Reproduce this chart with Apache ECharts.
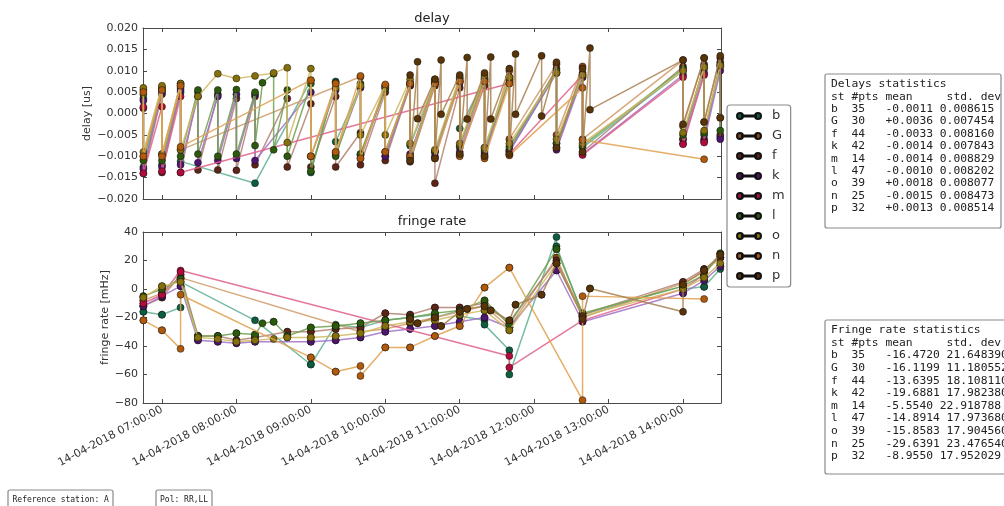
<!DOCTYPE html>
<html>
<head>
<meta charset="utf-8">
<script src="https://cdn.jsdelivr.net/npm/echarts@6/dist/echarts.min.js"></script>
<style>
html,body{margin:0;padding:0;background:#fff;}
#chart{width:1004px;height:506px;}
</style>
</head>
<body>
<div id="chart"></div>
<script>
// ---------------- data ----------------
const DAY = '14-04-2018';
const stations = ['b', 'G', 'f', 'k', 'm', 'l', 'o', 'n', 'p'];
const hourTicks = [7, 8, 9, 10, 11, 12, 13, 14];

// each row: [time, delay (us), fringe rate (mHz)]
const b = [
  ['06:45', 0.0035, -16], ['06:45', -0.0125, -16],
  ['07:00', 0.0055, -18], ['07:00', -0.0120, -18],
  ['07:15', 0.0050, -13], ['07:15', -0.0112, 5],
  ['08:15', -0.0163, -22],
  ['09:00', 0.0078, -53], ['09:00', -0.0138, -53],
  ['09:20', 0.0075, -25], ['09:20', -0.0066, -26],
  ['09:40', 0.0062, -27], ['09:40', -0.0098, -28],
  ['10:00', 0.0060, -22], ['10:00', -0.0100, -22],
  ['10:20', 0.0070, -20], ['10:20', -0.0075, -20],
  ['10:40', 0.0072, -18], ['10:40', -0.0090, -20],
  ['11:00', 0.0078, -15], ['11:00', -0.0035, -19],
  ['11:20', 0.0080, -22], ['11:20', -0.0080, -25],
  ['11:40', 0.0085, -43], ['11:40', -0.0088, -60],
  ['12:18', 0.0095, 36.5], ['12:18', -0.0070, 30],
  ['12:39', 0.0085, -18], ['12:39', -0.0080, -19],
  ['14:00', 0.0100, 2], ['14:00', -0.0060, 0],
  ['14:17', 0.0105, 1.5], ['14:17', -0.0050, 1.5],
  ['14:30', 0.0110, 14], ['14:30', -0.0055, 16]
];
const G = [
  ['06:45', 0.0055, -8], ['06:45', -0.0100, -8],
  ['07:00', 0.0062, -3], ['07:00', -0.0095, -3],
  ['07:15', 0.0070, 8], ['07:15', -0.0085, 8],
  ['09:40', 0.0086, -30], ['09:40', -0.0095, -30],
  ['10:00', 0.0065, -28], ['10:00', -0.0090, -28],
  ['10:20', 0.0065, -24], ['10:20', -0.0100, -24],
  ['10:40', 0.0070, -20], ['10:40', -0.0090, -20],
  ['11:00', 0.0075, -16], ['11:00', -0.0080, -16],
  ['11:20', 0.0080, -12], ['11:20', -0.0090, -12],
  ['11:40', 0.0100, -27], ['11:40', -0.0060, -27],
  ['12:18', 0.0115, 22], ['12:18', -0.0050, 22],
  ['12:39', 0.0110, -20], ['12:39', -0.0060, -20],
  ['14:00', 0.0125, 4], ['14:00', -0.0030, 4],
  ['14:17', 0.0130, 12], ['14:17', -0.0020, 12],
  ['14:30', 0.0130, 22], ['14:30', -0.0010, 22]
];
const f = [
  ['06:45', 0.0012, -12], ['06:45', -0.0140, -12],
  ['07:00', 0.0045, -6], ['07:00', -0.0138, -6],
  ['07:15', 0.0060, 10], ['07:15', -0.0138, 10],
  ['07:29', 0.0050, -33], ['07:29', -0.0132, -33],
  ['07:45', 0.0045, -33], ['07:45', -0.0132, -33],
  ['08:00', 0.0035, -36], ['08:00', -0.0133, -36],
  ['08:15', 0.0040, -34], ['08:15', -0.0120, -34],
  ['08:41', 0.0035, -30], ['08:41', -0.0125, -30],
  ['09:00', 0.0023, -30], ['09:00', -0.0125, -30],
  ['09:20', 0.0040, -28], ['09:20', -0.0125, -28],
  ['09:40', -0.0045, -27], ['09:40', -0.0120, -27],
  ['10:00', 0.0050, -17], ['10:00', -0.0110, -17],
  ['10:20', 0.0065, -18], ['10:20', -0.0113, -18],
  ['10:40', 0.0065, -13], ['10:40', -0.0163, -13],
  ['11:00', 0.0060, -13], ['11:00', -0.0097, -13],
  ['11:20', 0.0065, -10], ['11:20', -0.0100, -10],
  ['11:40', 0.0080, -23], ['11:40', -0.0085, -23],
  ['12:18', 0.0105, 20], ['12:18', -0.0080, 20],
  ['12:39', 0.0095, -18], ['12:39', -0.0090, -18],
  ['14:00', 0.0110, 5], ['14:00', -0.0060, 5],
  ['14:17', 0.0115, 14], ['14:17', -0.0060, 14],
  ['14:30', 0.0120, 22], ['14:30', -0.0050, 22]
];
const k = [
  ['06:45', 0.0030, -12], ['06:45', -0.0130, -12],
  ['07:00', 0.0050, -5], ['07:00', -0.0125, -5],
  ['07:15', 0.0055, 2], ['07:15', -0.0120, 2],
  ['07:29', 0.0040, -36], ['07:29', -0.0115, -36],
  ['07:45', 0.0040, -37], ['07:45', -0.0110, -37],
  ['08:00', 0.0045, -38], ['08:00', -0.0105, -38],
  ['08:15', 0.0045, -37], ['08:15', -0.0110, -37],
  ['09:00', 0.0050, -37], ['09:00', -0.0100, -37],
  ['09:20', 0.0055, -36], ['09:20', -0.0095, -36],
  ['09:40', 0.0060, -34], ['09:40', -0.0105, -34],
  ['10:00', 0.0062, -30], ['10:00', -0.0100, -30],
  ['10:20', 0.0068, -28], ['10:20', -0.0095, -28],
  ['10:40', 0.0070, -26], ['10:40', -0.0100, -26],
  ['11:00', 0.0072, -23], ['11:00', -0.0090, -23],
  ['11:20', 0.0075, -20], ['11:20', -0.0095, -20],
  ['11:40', 0.0085, -27], ['11:40', -0.0090, -27],
  ['12:18', 0.0095, 13], ['12:18', -0.0085, 13],
  ['12:39', 0.0085, -23], ['12:39', -0.0095, -23],
  ['14:00', 0.0090, -3], ['14:00', -0.0070, -3],
  ['14:17', 0.0095, 6], ['14:17', -0.0065, 6],
  ['14:30', 0.0100, 16], ['14:30', -0.0060, 16]
];
const m = [
  ['06:45', 0.0015, -10], ['06:45', -0.0140, -10],
  ['07:00', 0.0016, -4], ['07:00', -0.0135, -4],
  ['07:15', 0.0040, 13], ['07:15', -0.0138, 12],
  ['11:40', 0.0070, -47], ['11:40', -0.0095, -55],
  ['12:39', 0.0090, -22], ['12:39', -0.0097, -22],
  ['14:00', 0.0085, 0], ['14:00', -0.0072, 0],
  ['14:17', 0.0090, 10], ['14:17', -0.0068, 10]
];
const l = [
  ['06:45', 0.0045, -5], ['06:45', -0.0110, -5],
  ['07:00', 0.0058, 0], ['07:00', -0.0110, 0],
  ['07:15', 0.0065, 7], ['07:15', -0.0100, 7],
  ['07:29', 0.0055, -33], ['07:29', -0.0095, -33],
  ['07:45', 0.0055, -33], ['07:45', -0.0100, -33],
  ['08:00', 0.0056, -31], ['08:00', -0.0095, -31],
  ['08:15', 0.0050, -32], ['08:15', -0.0075, -32],
  ['08:21', 0.0072, -24],
  ['08:30', 0.0093, -23], ['08:30', -0.0085, -23],
  ['08:41', 0.0055, -33], ['08:41', -0.0100, -33],
  ['09:00', 0.0070, -27], ['09:00', -0.0135, -27],
  ['09:20', 0.0072, -26], ['09:20', -0.0100, -26],
  ['09:40', 0.0070, -24], ['09:40', -0.0095, -24],
  ['10:00', 0.0058, -22], ['10:00', -0.0090, -22],
  ['10:20', 0.0072, -20], ['10:20', -0.0105, -20],
  ['10:40', 0.0075, -17], ['10:40', -0.0088, -17],
  ['11:00', 0.0082, -15], ['11:00', -0.0075, -15],
  ['11:20', 0.0085, -8], ['11:20', -0.0085, -8],
  ['11:40', 0.0080, -25], ['11:40', -0.0078, -25],
  ['12:18', 0.0100, 28], ['12:18', -0.0070, 28],
  ['12:39', 0.0090, -17], ['12:39', -0.0075, -17],
  ['14:00', 0.0105, 2], ['14:00', -0.0050, 2],
  ['14:17', 0.0110, 10], ['14:17', -0.0045, 10],
  ['14:30', 0.0115, 25], ['14:30', -0.0040, 25]
];
const o = [
  ['06:45', 0.0060, -6], ['06:45', -0.0090, -6],
  ['07:00', 0.0065, 2], ['07:00', -0.0095, 2],
  ['07:15', 0.0070, 5], ['07:15', -0.0085, 5],
  ['07:29', 0.0040, -34],
  ['07:45', 0.0093, -35],
  ['08:00', 0.0082, -37],
  ['08:15', 0.0088, -36],
  ['08:30', 0.0095, -35],
  ['08:41', 0.0107, -34], ['08:41', -0.0068, -34],
  ['09:00', 0.0105, -34], ['09:00', -0.0100, -34],
  ['09:20', 0.0060, -33], ['09:20', -0.0090, -33],
  ['09:40', 0.0065, -31], ['09:40', -0.0050, -31],
  ['10:00', 0.0065, -26], ['10:00', -0.0050, -26],
  ['10:20', 0.0080, -23], ['10:20', -0.0070, -23],
  ['10:40', 0.0080, -22], ['10:40', -0.0085, -22],
  ['11:00', 0.0085, -18], ['11:00', -0.0070, -18],
  ['11:20', 0.0090, -15], ['11:20', -0.0080, -15],
  ['11:40', 0.0085, -29], ['11:40', -0.0070, -29],
  ['12:18', 0.0095, 18], ['12:18', -0.0060, 18],
  ['12:39', 0.0090, -19], ['12:39', -0.0070, -19],
  ['14:00', 0.0100, 0], ['14:00', -0.0045, 0],
  ['14:17', 0.0108, 8], ['14:17', -0.0040, 8],
  ['14:30', 0.0112, 18]
];
const n = [
  ['06:45', 0.0050, -22], ['06:45', -0.0100, -22],
  ['07:00', 0.0055, -29], ['07:00', -0.0100, -29],
  ['07:15', 0.0065, -42], ['07:15', -0.0078, -4],
  ['09:00', 0.0078, -48], ['09:00', -0.0100, -48],
  ['09:20', 0.0070, -58], ['09:20', -0.0090, -58],
  ['09:40', 0.0088, -54], ['09:40', -0.0105, -61],
  ['10:00', 0.0068, -41], ['10:00', -0.0090, -41],
  ['10:20', 0.0070, -41], ['10:20', -0.0100, -41],
  ['10:40', 0.0070, -33], ['10:40', -0.0105, -33],
  ['11:00', 0.0075, -26], ['11:00', -0.0100, -26],
  ['11:20', 0.0075, 1], ['11:20', -0.0105, 1],
  ['11:40', 0.0070, 15], ['11:40', -0.0098, 15],
  ['12:39', 0.0060, -78], ['12:39', -0.0062, -5],
  ['14:17', -0.0107, -7]
];
const p = [
  ['10:20', 0.0090, -21], ['10:20', -0.0110, -21],
  ['10:26', 0.0121, -24], ['10:26', -0.0012, -24],
  ['10:40', 0.0080, -20], ['10:40', -0.0105, -20],
  ['10:45', 0.0125, -26], ['10:45', -0.0002, -26],
  ['11:00', 0.0090, -16], ['11:00', -0.0095, -16],
  ['11:06', 0.0131, -14], ['11:06', -0.0013, -14],
  ['11:20', 0.0095, -12], ['11:20', -0.0100, -12],
  ['11:25', 0.0132, -15], ['11:25', -0.0013, -15],
  ['11:40', 0.0105, -22], ['11:40', -0.0095, -22],
  ['11:45', 0.0139, -11], ['11:45', -0.0002, -11],
  ['12:06', 0.0135, -4], ['12:06', -0.0006, -4],
  ['12:18', 0.0120, 18], ['12:18', -0.0080, 18],
  ['12:39', 0.0105, -19], ['12:39', -0.0090, -21],
  ['12:45', 0.0153, 0.4], ['12:45', 0.0009, 0.4],
  ['14:00', 0.0125, -16], ['14:00', -0.0025, 3],
  ['14:17', 0.0130, 13], ['14:17', -0.0020, 13],
  ['14:30', 0.0135, 24], ['14:30', -0.0010, 24]
];
const stationData = [b, G, f, k, m, l, o, n, p];

const delayStats = [
  ['b', 35, '-0.0011', '0.008615'],
  ['G', 30, '+0.0036', '0.007454'],
  ['f', 44, '-0.0033', '0.008160'],
  ['k', 42, '-0.0014', '0.007843'],
  ['m', 14, '-0.0014', '0.008829'],
  ['l', 47, '-0.0010', '0.008202'],
  ['o', 39, '+0.0018', '0.008077'],
  ['n', 25, '-0.0015', '0.008473'],
  ['p', 32, '+0.0013', '0.008514']
];
const rateStats = [
  ['b', 35, '-16.4720', '21.648390'],
  ['G', 30, '-16.1199', '11.180552'],
  ['f', 44, '-13.6395', '18.108110'],
  ['k', 42, '-19.6881', '17.982380'],
  ['m', 14, '-5.5540', '22.918788'],
  ['l', 47, '-14.8914', '17.973680'],
  ['o', 39, '-15.8583', '17.904560'],
  ['n', 25, '-29.6391', '23.476540'],
  ['p', 32, '-8.9550', '17.952029']
];

// ---------------- styles ----------------
const markerColors = ['#0d5e40', '#8a4410', '#5e2418', '#4e1570', '#b00c3c', '#2c5a0c', '#86700c', '#b05a0c', '#583408'];
const lineColors = ['#5fb090', '#cf9a68', '#b08070', '#a070c8', '#e06088', '#70a050', '#cfb860', '#e0a050', '#a88050'];

// ---------------- build ----------------
const toH = s => Number(s.slice(0, 2)) + Number(s.slice(3, 5)) / 60;
const pad2 = x => String(x).padStart(2, '0');
const timeLabel = h => {
  const tot = Math.round(h * 3600);
  const hh = Math.floor(tot / 3600), mm = Math.floor((tot % 3600) / 60), ss = tot % 60;
  return DAY + ' ' + pad2(hh) + ':' + pad2(mm) + ':' + pad2(ss);
};
const minus = s => s.replace('-', '\u2212');

const AXIS_COLOR = '#4a4a4a';
const LABEL_COLOR = '#333';
const FONT = 'DejaVu Sans';
const X_MIN = 6.745, X_MAX = 14.51;

function xAxisCfg(gridIndex, position, showLabel) {
  return {
    type: 'value', gridIndex, position, min: X_MIN, max: X_MAX,
    axisLine: { show: true, onZero: false, lineStyle: { color: AXIS_COLOR, width: 1 } },
    axisTick: { show: true, inside: true, length: 4, customValues: hourTicks, lineStyle: { color: AXIS_COLOR } },
    axisLabel: showLabel ? {
      show: true, customValues: hourTicks, rotate: 28, margin: 6,
      fontSize: 11, fontFamily: FONT, color: LABEL_COLOR,
      formatter: v => timeLabel(v)
    } : { show: false },
    splitLine: { show: false }
  };
}
function yAxisCfg(gridIndex, position, min, max, interval, fmt, name, nameGap) {
  return {
    type: 'value', gridIndex, position, min, max, interval,
    name: name || '', nameLocation: 'middle', nameGap: nameGap || 0, nameRotate: 90,
    nameMoveOverlap: false,
    nameTextStyle: { fontSize: 11, fontFamily: FONT, color: LABEL_COLOR },
    axisLine: { show: true, onZero: false, lineStyle: { color: AXIS_COLOR, width: 1 } },
    axisTick: { show: true, inside: true, length: 4, lineStyle: { color: AXIS_COLOR } },
    axisLabel: fmt ? { show: true, fontSize: 11, fontFamily: FONT, color: LABEL_COLOR, margin: 5, formatter: fmt } : { show: false },
    splitLine: { show: false }
  };
}

const series = [];
stations.forEach((st, i) => {
  const rows = stationData[i];
  const common = {
    name: st, type: 'line', symbol: 'circle', symbolSize: 7, showSymbol: true,
    lineStyle: { color: lineColors[i], width: 1.5, opacity: 0.85 },
    itemStyle: { color: markerColors[i], borderColor: '#111', borderWidth: 0.5 },
    emphasis: { disabled: true }, animation: false, z: 2 + i
  };
  series.push(Object.assign({}, common, {
    xAxisIndex: 0, yAxisIndex: 0,
    data: rows.map(r => [toH(r[0]), r[1]])
  }));
  series.push(Object.assign({}, common, {
    xAxisIndex: 2, yAxisIndex: 2,
    data: rows.map(r => [toH(r[0]), r[2]])
  }));
});

const delayLines = ['Delays statistics', 'st #pts mean     std. dev']
  .concat(delayStats.map(r => r[0] + '  ' + r[1] + '   ' + r[2] + ' ' + r[3]));
const rateLines = ['Fringe rate statistics', 'st #pts mean     std. dev']
  .concat(rateStats.map(r => r[0] + '  ' + r[1] + '   ' + r[2] + ' ' + r[3]));

const MONO = '"DejaVu Sans Mono", "Liberation Mono", monospace';
function box(x, y, w, h, text, fontSize, lh, tx, ty) {
  return {
    type: 'group', children: [
      { type: 'rect', shape: { x, y, width: w, height: h, r: 2 },
        style: { fill: '#fff', stroke: '#8a8a8a', lineWidth: 1.2 }, z: 10 },
      { type: 'text', x: tx, y: ty, z: 11,
        style: { text, font: fontSize + 'px ' + MONO, fill: '#222', lineHeight: lh,
                 align: 'left', verticalAlign: 'top', textAlign: 'left', textVerticalAlign: 'top' } }
    ]
  };
}

const legendIcon = 'path://M0,3a3,3 0 1,0 6,0a3,3 0 1,0 -6,0zM18,3a3,3 0 1,0 6,0a3,3 0 1,0 -6,0zM5,2.5h14v1h-14z';

const option = {
  backgroundColor: '#fff',
  animation: false,
  grid: [
    { left: 143, top: 28, width: 578, height: 171, outerBoundsMode: 'none', containLabel: false },
    { left: 143, top: 232, width: 578, height: 171, outerBoundsMode: 'none', containLabel: false }
  ],
  xAxis: [
    xAxisCfg(0, 'bottom', false),
    xAxisCfg(0, 'top', false),
    xAxisCfg(1, 'bottom', true),
    xAxisCfg(1, 'top', false)
  ],
  yAxis: [
    yAxisCfg(0, 'left', -0.02, 0.02, 0.005,
      v => Math.abs(v) < 1e-9 ? '0.000' : minus(v.toFixed(3)), 'delay [us]', 50),
    yAxisCfg(0, 'right', -0.02, 0.02, 0.005, null),
    yAxisCfg(1, 'left', -80, 40, 20, v => minus(String(v)), 'fringe rate [mHz]', 32),
    yAxisCfg(1, 'right', -80, 40, 20, null)
  ],
  legend: {
    data: stations, orient: 'vertical', left: 727, top: 105,
    icon: legendIcon, itemWidth: 24, itemHeight: 6, itemGap: 6,
    padding: [4, 6, 4, 9],
    borderColor: '#8a8a8a', borderWidth: 1.2, borderRadius: 3,
    textStyle: { fontSize: 13, fontFamily: FONT, color: '#333', lineHeight: 14, padding: [0, 0, 0, 6] },
    selectedMode: false
  },
  graphic: [
    { type: 'text', x: 432, y: 19, style: { text: 'delay', font: '13px "DejaVu Sans"', fill: '#222', align: 'center', verticalAlign: 'middle', textAlign: 'center', textVerticalAlign: 'middle' } },
    { type: 'text', x: 432, y: 222, style: { text: 'fringe rate', font: '13px "DejaVu Sans"', fill: '#222', align: 'center', verticalAlign: 'middle', textAlign: 'center', textVerticalAlign: 'middle' } },
    box(825, 74, 176, 154, delayLines.join('\n'), 11.3, 12.4, 831, 78),
    box(825, 320, 200, 154, rateLines.join('\n'), 11.3, 12.6, 831, 324),
    box(8, 490, 105, 24, 'Reference station: A', 8, 10, 12.5, 495),
    box(156, 490, 56, 24, 'Pol: RR,LL', 8, 10, 160, 495)
  ],
  series
};

const chart = echarts.init(document.getElementById('chart'), null, { renderer: 'canvas' });
chart.setOption(option);
</script>
</body>
</html>
